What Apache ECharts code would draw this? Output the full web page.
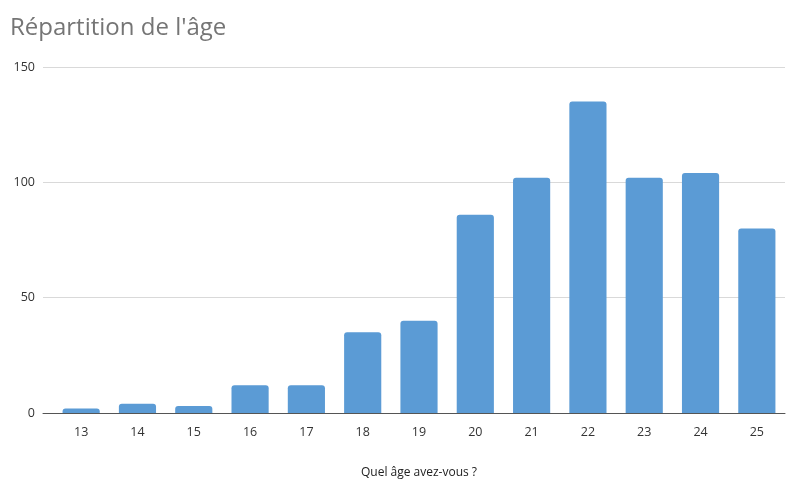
<!DOCTYPE html>
<html>
<head>
<meta charset="utf-8">
<script src="https://cdn.jsdelivr.net/npm/echarts@6/dist/echarts.min.js"></script>
<style>
  html, body { margin: 0; padding: 0; background: #fff; }
  #chart { width: 788px; height: 479px; }
</style>
</head>
<body>
<div id="chart"></div>
<script>
// Age distribution of respondents
const ages = ['13', '14', '15', '16', '17', '18', '19', '20', '21', '22', '23', '24', '25'];
const counts = [2, 4, 3, 12, 12, 35, 40, 86, 102, 135, 102, 104, 80];
const yTicks = [0, 50, 100, 150];

const font = 'Open Sans';
const chart = echarts.init(document.getElementById('chart'));
chart.setOption({
  animation: false,
  backgroundColor: '#ffffff',
  title: {
    text: "Répartition de l'âge",
    left: 5,
    top: 11,
    textStyle: { fontFamily: font, fontSize: 24, fontWeight: 'normal', color: '#757575' }
  },
  // grid 0 holds the bars; grid 1 draws the value scale, gridlines and baseline,
  // which reach a little further left than the first category slot
  grid: [
    { left: 53, right: 3, top: 67, bottom: 66, outerBoundsMode: 'none', containLabel: false },
    { left: 43, right: 3, top: 67, bottom: 66, outerBoundsMode: 'none', containLabel: false }
  ],
  xAxis: [{
    type: 'category',
    gridIndex: 0,
    data: ages,
    name: 'Quel âge avez-vous ?',
    nameLocation: 'middle',
    nameGap: 54,
    nameTextStyle: { fontFamily: font, fontSize: 12, color: '#222' },
    axisLine: { show: false },
    axisTick: { show: false },
    axisLabel: { fontFamily: font, fontSize: 12.5, color: '#333', margin: 13 }
  }, {
    type: 'value',
    gridIndex: 1,
    min: 0,
    max: 1,
    axisLine: { show: true, onZero: false, lineStyle: { color: '#555', width: 1 } },
    axisTick: { show: false },
    axisLabel: { show: false },
    splitLine: { show: false }
  }],
  yAxis: [{
    type: 'value',
    gridIndex: 0,
    min: yTicks[0],
    max: yTicks[yTicks.length - 1],
    interval: 50,
    axisLine: { show: false },
    axisTick: { show: false },
    axisLabel: { show: false },
    splitLine: { show: false }
  }, {
    type: 'value',
    gridIndex: 1,
    min: yTicks[0],
    max: yTicks[yTicks.length - 1],
    interval: 50,
    axisLine: { show: false },
    axisTick: { show: false },
    axisLabel: { fontFamily: font, fontSize: 12.5, color: '#333', margin: 8 },
    splitLine: { lineStyle: { color: '#d9d9d9', width: 1 } }
  }],
  series: [{
    type: 'bar',
    xAxisIndex: 0,
    yAxisIndex: 0,
    data: counts,
    barCategoryGap: '34%',
    z: 3,
    itemStyle: { color: '#5b9bd5', borderRadius: [3, 3, 0, 0] }
  }]
});
</script>
</body>
</html>
